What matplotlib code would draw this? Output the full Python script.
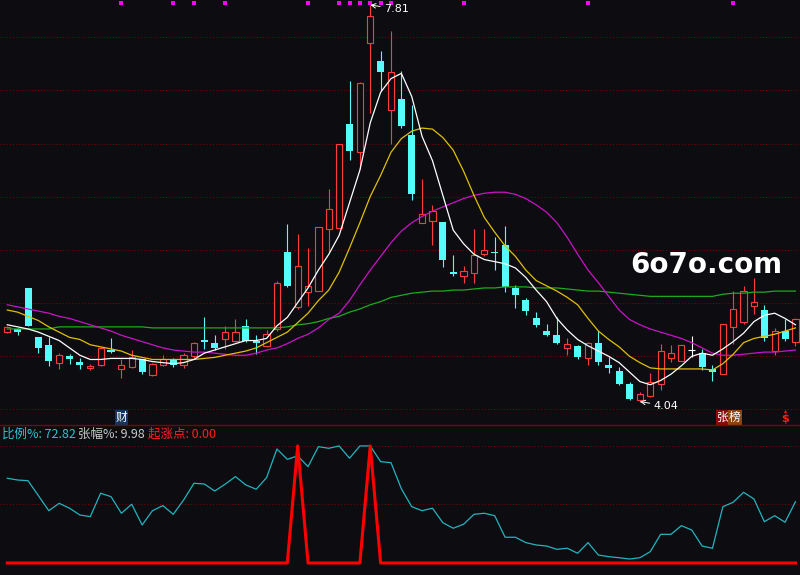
import numpy as np
import matplotlib
matplotlib.use("Agg")
from matplotlib import pyplot as plt

plt.rcParams['font.family'] = ['Noto Sans CJK SC', 'DejaVu Sans']

BG = '#0d0d11'
UP = '#ff3b3b'
DOWN = '#54fcfc'
GRID = '#7a0000'

# daily bars, oldest first
opens = [4.70, 4.73, 5.12, 4.65, 4.58, 4.41, 4.47, 4.42, 4.36, 4.39,
         4.53, 4.35, 4.37, 4.44, 4.29, 4.39, 4.44, 4.39, 4.47, 4.62,
         4.60, 4.63, 4.62, 4.76, 4.62, 4.57, 4.73, 5.46, 4.94, 5.08,
         5.09, 5.68, 5.69, 6.68, 6.41, 7.45, 7.28, 6.81, 6.92, 6.57,
         5.74, 5.76, 5.75, 5.27, 5.23, 5.26, 5.44, 5.46, 5.53, 5.12,
         5.01, 4.83, 4.71, 4.67, 4.55, 4.57, 4.45, 4.60, 4.39, 4.33,
         4.21, 4.05, 4.09, 4.21, 4.45, 4.43, 4.53, 4.50, 4.35, 4.30,
         4.75, 4.80, 4.95, 4.91, 4.52, 4.71, 4.61]
highs = [4.76, 4.74, 5.12, 4.65, 4.65, 4.50, 4.49, 4.45, 4.40, 4.56,
         4.64, 4.44, 4.53, 4.44, 4.41, 4.48, 4.45, 4.50, 4.61, 4.84,
         4.67, 4.76, 4.82, 4.82, 4.67, 4.72, 5.19, 5.73, 5.63, 5.50,
         5.70, 6.06, 6.49, 7.09, 7.08, 7.81, 7.37, 7.56, 7.18, 6.86,
         6.16, 5.91, 5.75, 5.43, 5.33, 5.68, 5.68, 5.60, 5.71, 5.15,
         5.02, 4.89, 4.78, 4.84, 4.64, 4.58, 4.61, 4.71, 4.46, 4.37,
         4.23, 4.13, 4.31, 4.59, 4.58, 4.58, 4.66, 4.54, 4.39, 4.78,
         5.09, 5.14, 5.21, 4.96, 4.74, 4.82, 4.83]
lows = [4.69, 4.67, 4.76, 4.50, 4.38, 4.35, 4.40, 4.35, 4.34, 4.38,
        4.50, 4.26, 4.36, 4.30, 4.28, 4.38, 4.37, 4.36, 4.45, 4.54,
        4.53, 4.54, 4.61, 4.61, 4.49, 4.56, 4.71, 5.13, 4.92, 4.95,
        5.09, 5.45, 5.69, 6.34, 6.25, 6.78, 6.99, 6.49, 6.64, 5.96,
        5.74, 5.53, 5.32, 5.23, 5.17, 5.17, 5.42, 5.29, 5.08, 4.93,
        4.86, 4.75, 4.66, 4.59, 4.48, 4.44, 4.39, 4.39, 4.31, 4.20,
        4.05, 4.04, 4.08, 4.15, 4.42, 4.43, 4.46, 4.34, 4.24, 4.30,
        4.59, 4.78, 4.87, 4.62, 4.48, 4.62, 4.57]
closes = [4.75, 4.70, 4.76, 4.55, 4.43, 4.48, 4.44, 4.39, 4.38, 4.55,
          4.51, 4.39, 4.46, 4.32, 4.40, 4.44, 4.39, 4.48, 4.60, 4.61,
          4.55, 4.70, 4.70, 4.62, 4.60, 4.68, 5.17, 5.14, 5.33, 5.14,
          5.70, 5.87, 6.49, 6.42, 7.07, 7.71, 7.17, 7.17, 6.66, 6.01,
          5.82, 5.85, 5.39, 5.25, 5.28, 5.43, 5.48, 5.45, 5.13, 5.05,
          4.90, 4.77, 4.67, 4.60, 4.59, 4.46, 4.60, 4.42, 4.36, 4.21,
          4.06, 4.11, 4.23, 4.52, 4.50, 4.58, 4.53, 4.37, 4.32, 4.78,
          4.92, 5.09, 4.99, 4.64, 4.71, 4.63, 4.82]

# moving average lines as drawn on the chart
ma_white = [4.77, 4.75, 4.73, 4.70, 4.66, 4.62, 4.55, 4.48, 4.44, 4.44,
            4.45, 4.45, 4.45, 4.44, 4.42, 4.41, 4.40, 4.41, 4.44, 4.50,
            4.53, 4.56, 4.59, 4.62, 4.62, 4.64, 4.76, 4.84, 4.98, 5.12,
            5.29, 5.44, 5.62, 5.93, 6.24, 6.69, 6.98, 7.11, 7.16, 6.94,
            6.56, 6.33, 6.00, 5.67, 5.54, 5.44, 5.39, 5.37, 5.35, 5.31,
            5.22, 5.10, 4.99, 4.83, 4.72, 4.63, 4.57, 4.52, 4.47, 4.41,
            4.32, 4.23, 4.20, 4.24, 4.30, 4.38, 4.47, 4.50, 4.48, 4.54,
            4.61, 4.69, 4.80, 4.86, 4.88, 4.83, 4.77]
ma_yellow = [4.91, 4.89, 4.85, 4.81, 4.75, 4.70, 4.65, 4.63, 4.58, 4.56,
             4.54, 4.52, 4.48, 4.46, 4.44, 4.44, 4.44, 4.44, 4.44, 4.45,
             4.46, 4.48, 4.50, 4.52, 4.55, 4.60, 4.65, 4.70, 4.79, 4.88,
             5.00, 5.10, 5.27, 5.50, 5.74, 5.99, 6.19, 6.41, 6.54, 6.61,
             6.64, 6.63, 6.55, 6.43, 6.23, 6.00, 5.79, 5.65, 5.52, 5.42,
             5.29, 5.19, 5.14, 5.09, 5.03, 4.96, 4.83, 4.71, 4.63, 4.56,
             4.47, 4.41, 4.36, 4.35, 4.35, 4.35, 4.35, 4.35, 4.34, 4.40,
             4.49, 4.60, 4.64, 4.66, 4.68, 4.71, 4.74]
ma_magenta = [4.96, 4.94, 4.92, 4.90, 4.88, 4.85, 4.83, 4.80, 4.77, 4.74,
              4.71, 4.67, 4.64, 4.61, 4.58, 4.55, 4.53, 4.52, 4.51, 4.51,
              4.50, 4.49, 4.48, 4.48, 4.50, 4.53, 4.55, 4.59, 4.64, 4.68,
              4.74, 4.82, 4.88, 5.00, 5.15, 5.29, 5.42, 5.55, 5.66, 5.74,
              5.80, 5.85, 5.89, 5.93, 5.97, 6.00, 6.02, 6.03, 6.03, 6.01,
              5.97, 5.91, 5.84, 5.74, 5.60, 5.44, 5.29, 5.17, 5.04, 4.91,
              4.82, 4.77, 4.73, 4.70, 4.67, 4.64, 4.60, 4.55, 4.50, 4.48,
              4.48, 4.49, 4.50, 4.51, 4.51, 4.52, 4.53]
ma_green = [4.73, 4.73, 4.73, 4.73, 4.73, 4.75, 4.75, 4.75, 4.75, 4.75,
            4.75, 4.75, 4.75, 4.75, 4.74, 4.74, 4.74, 4.74, 4.74, 4.74,
            4.74, 4.74, 4.74, 4.74, 4.74, 4.74, 4.74, 4.75, 4.77, 4.78,
            4.80, 4.83, 4.85, 4.89, 4.92, 4.96, 4.99, 5.03, 5.05, 5.07,
            5.08, 5.09, 5.09, 5.10, 5.10, 5.11, 5.12, 5.12, 5.13, 5.13,
            5.13, 5.12, 5.12, 5.12, 5.11, 5.10, 5.09, 5.09, 5.08, 5.07,
            5.06, 5.05, 5.04, 5.04, 5.04, 5.04, 5.04, 5.04, 5.04, 5.06,
            5.07, 5.07, 5.08, 5.08, 5.09, 5.09, 5.09]

# lower panel
ratio_pct = [72.4, 70.9, 70.3, 57.5, 44.7, 51.0, 46.8, 41.0, 39.6, 59.6,
             56.7, 42.5, 50.2, 32.5, 44.7, 49.0, 41.6, 53.8, 68.1, 67.5,
             61.5, 67.3, 73.8, 66.7, 63.0, 72.9, 97.4, 88.6, 91.5, 82.3,
             99.4, 98.0, 100.0, 89.5, 100.0, 100.0, 86.6, 85.7, 63.4, 48.1,
             44.7, 46.8, 34.4, 29.7, 33.1, 41.6, 42.5, 40.4, 22.0, 22.0,
             17.4, 15.4, 14.5, 11.7, 12.6, 8.3, 17.4, 6.8, 5.4, 4.5,
             3.4, 4.5, 9.7, 24.5, 24.5, 31.9, 28.2, 14.5, 12.6, 48.1,
             51.9, 60.4, 54.7, 35.3, 40.4, 34.8, 52.4]
rise_days = [28, 35]
dot_days = [11, 16, 18, 21, 29, 32, 33, 34, 35, 36, 37, 44, 56, 70]
cai_day = 11
zhangbang_day = 69
dollar_day = 75

labels = [('比例%: 72.82', '#2cc5cc'), ('张幅%: 9.98', '#c8c8c8'),
          ('起涨点: 0.00', '#ff2020')]

n = len(closes)
x = np.arange(n)
o, h, l, c = (np.array(v) for v in (opens, highs, lows, closes))
top = np.maximum(o, c)
bot = np.minimum(o, c)
up = c > o
down = c < o
flat = c == o

W, H = 800, 575
MAIN_H = 425
PX_BAR = 10.37


def frac(ypx):
    """pixel row (from top of main panel) to axes fraction"""
    return 1 - ypx / MAIN_H


fig = plt.figure(figsize=(W / 100, H / 100), dpi=100, facecolor=BG)
ax = fig.add_axes([0, (H - MAIN_H) / H, 1, MAIN_H / H])
ax2 = fig.add_axes([0, 0, 1, (H - MAIN_H) / H])
for a in (ax, ax2):
    a.set_facecolor(BG)
    a.set_xlim(-0.704, 76.44)
    a.set_xticks([])
    a.set_yticks([])
    for s in a.spines.values():
        s.set_visible(False)
ax.set_ylim(3.817, 7.8575)
ax2.set_ylim(-10.26, 117.9)
ax2.spines['top'].set_visible(True)
ax2.spines['top'].set_color('#800000')
ax2.spines['top'].set_linewidth(1.0)

# dotted grid
for k in range(8):
    f = frac(37.3 + 53.17 * k)
    ax.plot([0, 1], [f, f], transform=ax.transAxes, ls=(0, (1, 2)),
            lw=0.75, color=GRID, zorder=0)
for v in (100, 50):
    ax2.axhline(v, ls=(0, (1, 2)), lw=0.75, color=GRID, zorder=0)

LW = 0.8
# falling bars: filled
ax.vlines(x[down], l[down], h[down], color=DOWN, lw=LW, zorder=2)
ax.bar(x[down], np.maximum(top - bot, 0.012)[down], bottom=bot[down],
       width=0.68, color=DOWN, lw=0, zorder=3)
# rising bars: hollow
ax.vlines(x[up], top[up], h[up], color=UP, lw=LW, zorder=2)
ax.vlines(x[up], l[up], bot[up], color=UP, lw=LW, zorder=2)
ax.bar(x[up], (top - bot)[up], bottom=bot[up], width=0.6,
       facecolor=BG, edgecolor=UP, lw=LW, zorder=3)
# unchanged bars
ax.vlines(x[flat], l[flat], h[flat], color='white', lw=LW, zorder=2)
ax.hlines(o[flat], x[flat] - 0.34, x[flat] + 0.34, color='white', lw=LW,
          zorder=3)

ax.plot(x, ma_green, color='#1eaa1e', lw=0.9, zorder=4)
ax.plot(x, ma_magenta, color='#c814c8', lw=0.9, zorder=4)
ax.plot(x, ma_yellow, color='#e0c000', lw=0.9, zorder=4)
ax.plot(x, ma_white, color='white', lw=0.9, zorder=5)

# signal dots along the top
ax.scatter(dot_days, [frac(2.5)] * len(dot_days),
           transform=ax.get_xaxis_transform(), marker='s', s=6,
           color='#ff00ff', linewidths=0, zorder=6)

hi = int(np.argmax(h))
lo = int(np.argmin(l))
arrow = dict(arrowstyle='->', color='white', lw=0.7, shrinkA=1, shrinkB=0)
ax.annotate(f'{h[hi]:.2f}', xy=(hi, h[hi]), xytext=(14, -4),
            textcoords='offset pixels', ha='left', va='center',
            color='white', fontsize=8, family='DejaVu Sans',
            arrowprops=arrow, zorder=7)
ax.annotate(f'{l[lo]:.2f}', xy=(lo, l[lo]), xytext=(14, -4.5),
            textcoords='offset pixels', ha='left', va='center',
            color='white', fontsize=8, family='DejaVu Sans',
            arrowprops=arrow, zorder=7)

# markers along the bottom of the main panel
xt = ax.get_xaxis_transform()
ax.text(cai_day, frac(417.5), '财', transform=xt, color='white',
        fontsize=8.5, ha='center', va='center', zorder=7,
        bbox=dict(boxstyle='square,pad=0.08', fc='#15345e', ec='none'))
ax.text(zhangbang_day, frac(417.5), '张', transform=xt, color='white',
        fontsize=8.5, ha='center', va='center', zorder=7,
        bbox=dict(boxstyle='square,pad=0.08', fc='#8b0a0a', ec='none'))
ax.text(zhangbang_day + 12 / PX_BAR, frac(417.5), '榜', transform=xt,
        color='white', fontsize=8.5, ha='center', va='center', zorder=7,
        bbox=dict(boxstyle='square,pad=0.08', fc='#8b4513', ec='none'))
ax.text(dollar_day, frac(419), '$', transform=xt, color='#ff1a1a',
        fontsize=8, fontweight='bold', ha='center', va='center',
        family='DejaVu Sans', zorder=7)
ax.scatter([dollar_day], [frac(410.5)], transform=xt, marker='^', s=5,
           color='#ff1a1a', linewidths=0, zorder=7)

# lower panel
rise = [100 if i in rise_days else 0 for i in range(n)]
ax2.plot(x, ratio_pct, color='#22b4c0', lw=0.9, zorder=3)
ax2.plot(x, rise, color='#ff0000', lw=2.2, zorder=4)

lx = [2, 78, 148]
for (txt, col), px in zip(labels, lx):
    fig.text(px / W, 1 - 434 / H, txt, color=col, fontsize=9,
             ha='left', va='center')

fig.text(706 / W, 1 - 265 / H, '6o7o.com', color='white', fontsize=20,
         fontweight='bold', ha='center', va='center', family='DejaVu Sans')

fig.savefig('out.png', dpi=100, facecolor=BG)
